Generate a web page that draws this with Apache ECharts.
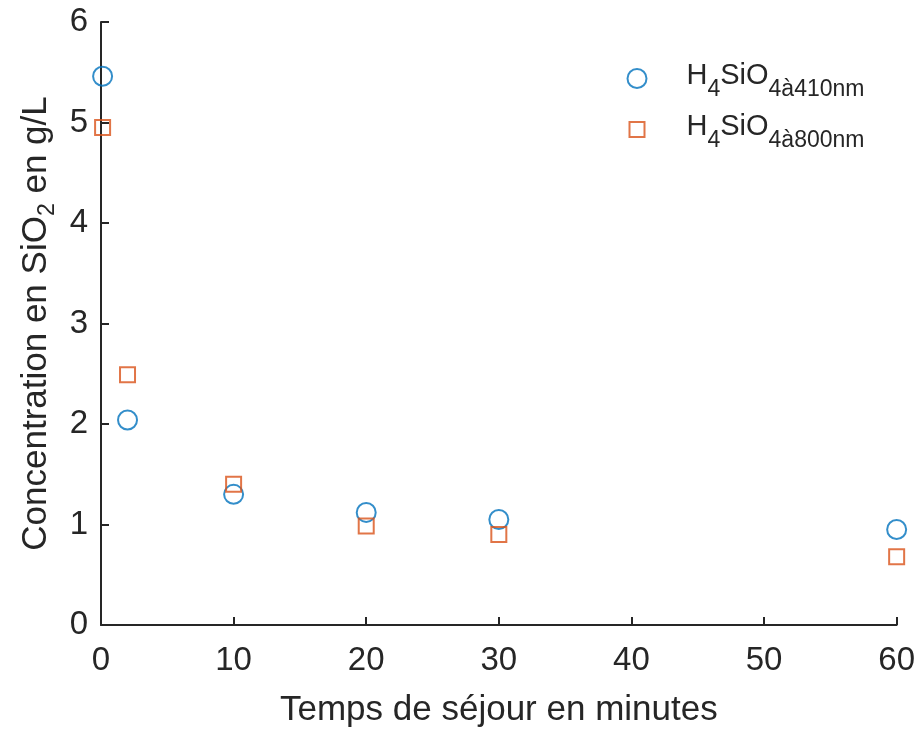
<!DOCTYPE html>
<html>
<head>
<meta charset="utf-8">
<script src="https://cdn.jsdelivr.net/npm/echarts@6/dist/echarts.min.js"></script>
<style>html,body{margin:0;padding:0;background:#fff}#c{width:918px;height:733px}</style>
</head>
<body>
<div id="c"></div>
<script>
// Data
const xTicks = [0, 10, 20, 30, 40, 50, 60];
const yTicks = [0, 1, 2, 3, 4, 5, 6];
const times410 = [0.12, 2, 10, 20, 30, 60];
const conc410 = [5.46, 2.04, 1.30, 1.12, 1.05, 0.95];
const times800 = [0.12, 2, 10, 20, 30, 60];
const conc800 = [4.95, 2.49, 1.40, 0.985, 0.90, 0.68];
const seriesNames = ['H4SiO4 410', 'H4SiO4 800'];
const legendSubs = ['4à410nm', '4à800nm'];

const FONT = '"Liberation Sans", Arial, Helvetica, sans-serif';
const TXT = '#262626';
const BLUE = '#0072BD';
const ORANGE = '#D95319';

function pairs(xs, ys) { return xs.map((x, i) => [x, ys[i]]); }

function legendRich(padLeft) {
  return {
    h: { fontFamily: FONT, fontSize: 29, color: TXT, lineHeight: 29, padding: [0, 0, 6, padLeft], verticalAlign: 'middle' },
    a: { fontFamily: FONT, fontSize: 29, color: TXT, lineHeight: 29, padding: [0, 0, 6, 0], verticalAlign: 'middle' },
    s: { fontFamily: FONT, fontSize: 23, color: TXT, lineHeight: 23, padding: [22, 0, 0, 0], verticalAlign: 'middle' }
  };
}

const chart = echarts.init(document.getElementById('c'), null, { renderer: 'canvas' });
chart.setOption({
  backgroundColor: '#fff',
  animation: false,
  textStyle: { fontFamily: FONT },
  grid: { left: 101, right: 19, top: 22, bottom: 104, containLabel: false },
  xAxis: {
    type: 'value', min: xTicks[0], max: xTicks[xTicks.length - 1], interval: 10,
    name: 'Temps de séjour en minutes', nameLocation: 'middle', nameGap: 68,
    nameTextStyle: { fontFamily: FONT, fontSize: 35, color: TXT },
    axisLine: { show: true, onZero: false, lineStyle: { color: TXT, width: 2 } },
    axisTick: { show: true, inside: true, length: 8, lineStyle: { color: TXT, width: 2 } },
    axisLabel: { margin: 19, fontFamily: FONT, fontSize: 33, color: TXT },
    splitLine: { show: false }
  },
  yAxis: {
    type: 'value', min: yTicks[0], max: yTicks[yTicks.length - 1], interval: 1,
    name: '{a|Concentration en SiO}{s|2}{a| en g/L}', nameLocation: 'middle', nameGap: 46, nameRotate: 90,
    nameTextStyle: {
      fontFamily: FONT, fontSize: 35, color: TXT,
      rich: {
        a: { fontFamily: FONT, fontSize: 35, color: TXT, lineHeight: 35, verticalAlign: 'middle' },
        s: { fontFamily: FONT, fontSize: 23, color: TXT, lineHeight: 23, padding: [22, 0, 0, 0], verticalAlign: 'middle' }
      }
    },
    axisLine: { show: true, onZero: false, lineStyle: { color: TXT, width: 2 } },
    axisTick: { show: true, inside: true, length: 8, lineStyle: { color: TXT, width: 2 } },
    axisLabel: { margin: 13, fontFamily: FONT, fontSize: 33, color: TXT },
    splitLine: { show: false }
  },
  legend: [
    {
      data: [seriesNames[0]], left: 626.5, top: 56, padding: 0,
      itemWidth: 19, itemHeight: 19,
      formatter: () => '{h|H}{s|4}{a|SiO}{s|' + legendSubs[0] + '}',
      textStyle: { rich: legendRich(35) }
    },
    {
      data: [seriesNames[1]], left: 628.5, top: 107, padding: 0,
      itemWidth: 15, itemHeight: 15,
      formatter: () => '{h|H}{s|4}{a|SiO}{s|' + legendSubs[1] + '}',
      textStyle: { rich: legendRich(37) }
    }
  ],
  series: [
    {
      name: seriesNames[0], type: 'scatter', data: pairs(times410, conc410),
      symbol: 'circle', symbolSize: 19,
      itemStyle: { color: 'rgba(255,255,255,0)', borderColor: BLUE, borderWidth: 2 }
    },
    {
      name: seriesNames[1], type: 'scatter', data: pairs(times800, conc800),
      symbol: 'rect', symbolSize: 15,
      itemStyle: { color: 'rgba(255,255,255,0)', borderColor: ORANGE, borderWidth: 2 }
    }
  ]
});
</script>
</body>
</html>
